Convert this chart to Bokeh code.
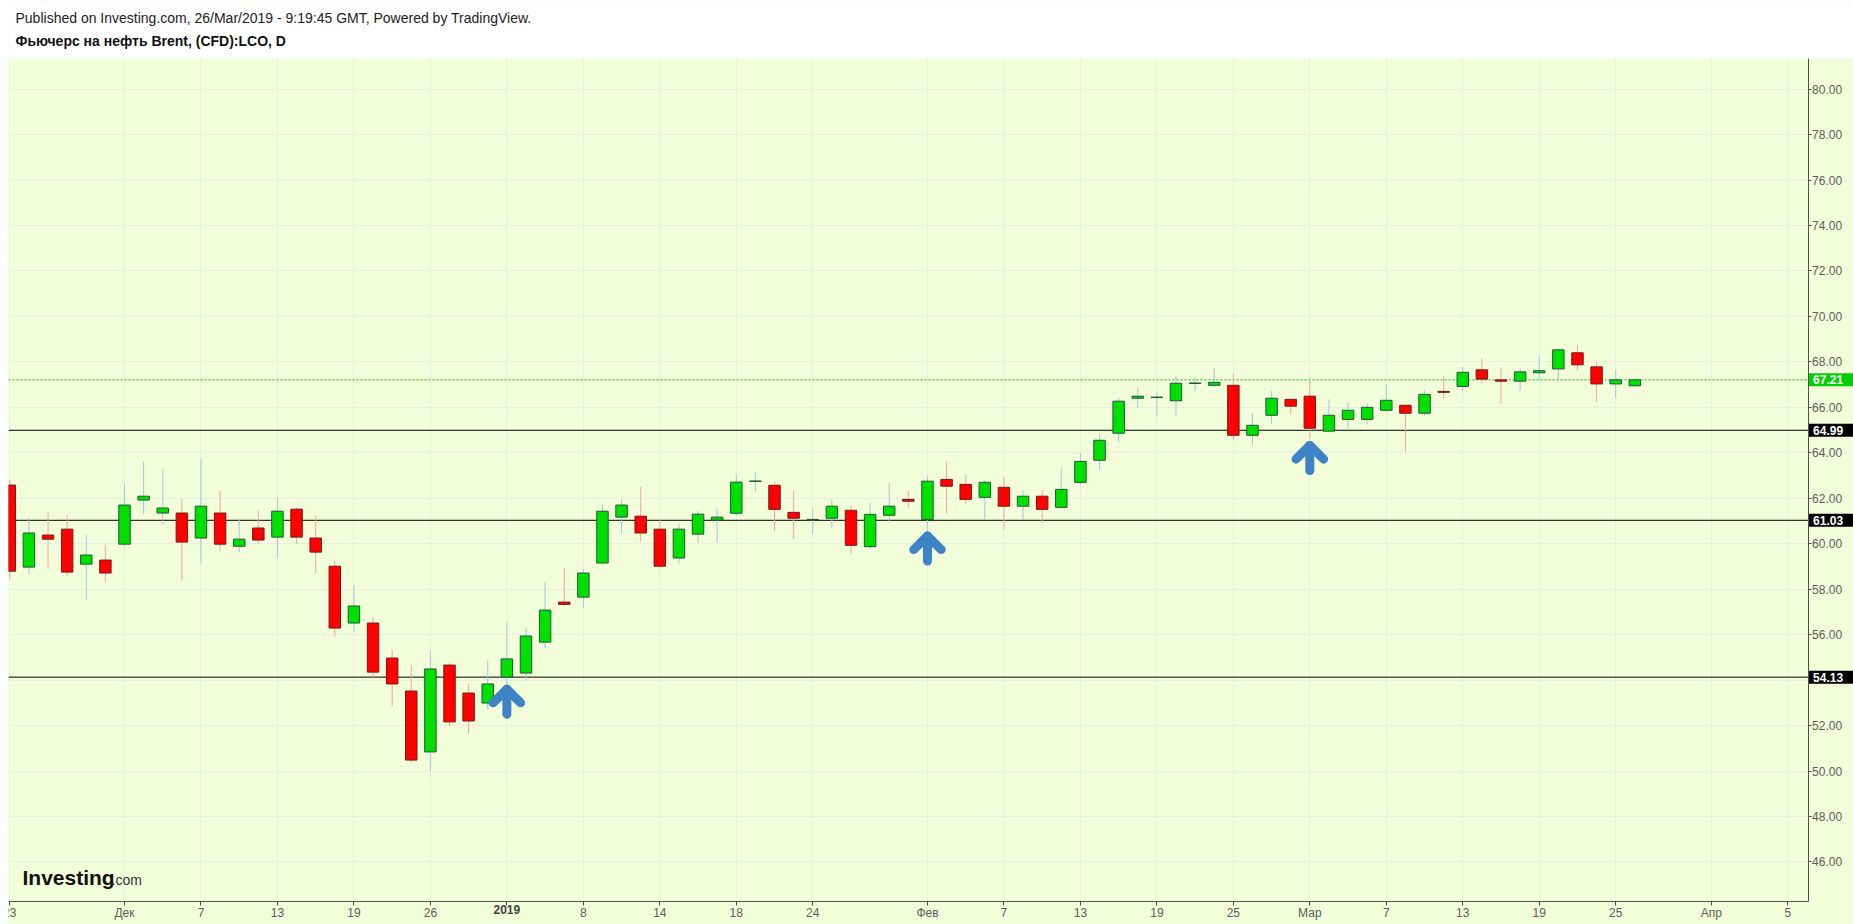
from bokeh.plotting import figure
from bokeh.models import (ColumnDataSource, Label, BoxAnnotation, FixedTicker,
                          Range1d, NumeralTickFormatter)
from bokeh.embed import file_html
from bokeh.resources import INLINE

# ---------------- data ----------------
dates = [
    "2018-11-23", "2018-11-26", "2018-11-27", "2018-11-28", "2018-11-29", "2018-11-30",
    "2018-12-03", "2018-12-04", "2018-12-05", "2018-12-06", "2018-12-07",
    "2018-12-10", "2018-12-11", "2018-12-12", "2018-12-13", "2018-12-14",
    "2018-12-17", "2018-12-18", "2018-12-19", "2018-12-20", "2018-12-21",
    "2018-12-24", "2018-12-26", "2018-12-27", "2018-12-28", "2018-12-31",
    "2019-01-02", "2019-01-03", "2019-01-04", "2019-01-07", "2019-01-08",
    "2019-01-09", "2019-01-10", "2019-01-11", "2019-01-14", "2019-01-15",
    "2019-01-16", "2019-01-17", "2019-01-18", "2019-01-21", "2019-01-22",
    "2019-01-23", "2019-01-24", "2019-01-25", "2019-01-28", "2019-01-29",
    "2019-01-30", "2019-01-31", "2019-02-01", "2019-02-04", "2019-02-05",
    "2019-02-06", "2019-02-07", "2019-02-08", "2019-02-11", "2019-02-12",
    "2019-02-13", "2019-02-14", "2019-02-15", "2019-02-18", "2019-02-19",
    "2019-02-20", "2019-02-21", "2019-02-22", "2019-02-25", "2019-02-26",
    "2019-02-27", "2019-02-28", "2019-03-01", "2019-03-04", "2019-03-05",
    "2019-03-06", "2019-03-07", "2019-03-08", "2019-03-11", "2019-03-12",
    "2019-03-13", "2019-03-14", "2019-03-15", "2019-03-18", "2019-03-19",
    "2019-03-20", "2019-03-21", "2019-03-22", "2019-03-25", "2019-03-26",
]
opens = [
    62.58, 58.97, 60.38, 60.64, 59.10, 59.28, 59.98, 61.92, 61.35, 61.35,
    60.25, 61.35, 59.89, 60.69, 60.29, 61.52, 60.25, 59.01, 56.51, 56.51,
    54.97, 53.52, 50.84, 54.66, 53.43, 52.99, 54.13, 54.31, 55.67, 57.43,
    57.65, 59.15, 61.17, 61.21, 60.64, 59.37, 60.42, 61.04, 61.34, 62.74,
    62.57, 61.38, 61.05, 61.12, 61.47, 59.87, 61.25, 61.95, 61.06, 62.83,
    62.61, 62.04, 62.48, 61.65, 62.09, 61.60, 62.70, 63.67, 64.86, 66.40,
    66.43, 66.29, 67.05, 66.97, 66.97, 64.77, 65.65, 66.35, 66.49, 64.95,
    65.47, 65.47, 65.87, 66.09, 65.74, 66.70, 66.92, 67.65, 67.21, 67.15,
    67.52, 67.69, 68.40, 67.78, 67.03, 66.95,
]
highs = [
    62.81, 61.14, 61.40, 61.27, 60.39, 59.95, 62.63, 63.60, 63.29, 61.98,
    63.73, 62.33, 61.10, 61.45, 62.02, 61.58, 61.23, 59.25, 58.15, 56.79,
    55.34, 54.67, 55.29, 54.75, 53.84, 54.85, 56.57, 56.30, 58.33, 58.94,
    58.90, 61.73, 61.93, 62.50, 61.04, 60.88, 61.45, 61.54, 63.03, 63.16,
    62.72, 62.32, 61.53, 61.92, 61.70, 61.79, 62.67, 62.32, 62.98, 63.64,
    63.02, 62.79, 62.94, 62.36, 62.36, 63.33, 63.99, 64.83, 66.43, 66.85,
    66.68, 67.38, 67.34, 67.73, 67.47, 65.75, 66.72, 66.40, 67.16, 66.35,
    66.22, 66.18, 67.03, 66.12, 66.75, 67.38, 67.77, 68.15, 67.75, 67.71,
    68.24, 68.57, 68.72, 68.00, 67.66, 67.30,
]
lows = [
    58.41, 58.65, 58.96, 58.60, 57.55, 58.30, 59.88, 61.29, 60.85, 58.38,
    59.13, 59.66, 59.62, 60.01, 59.35, 59.97, 58.69, 55.92, 56.11, 54.10,
    52.83, 50.38, 49.99, 51.97, 51.66, 52.70, 53.00, 53.99, 55.39, 57.28,
    57.15, 59.09, 60.45, 60.10, 58.91, 59.13, 60.04, 60.06, 61.25, 62.30,
    60.58, 60.22, 60.44, 60.71, 59.52, 59.78, 61.00, 61.59, 60.56, 61.32,
    61.76, 61.04, 60.62, 61.04, 60.94, 61.55, 62.60, 63.26, 64.45, 65.94,
    65.59, 65.63, 66.72, 66.92, 64.58, 64.36, 65.28, 65.68, 64.62, 64.90,
    65.06, 65.24, 65.78, 64.05, 65.63, 66.40, 66.72, 67.05, 66.17, 66.74,
    67.21, 67.21, 67.64, 66.23, 66.40, 66.89,
]
closes = [
    58.79, 60.47, 60.20, 58.75, 59.50, 58.71, 61.70, 62.09, 61.57, 60.07,
    61.65, 59.98, 60.20, 60.16, 61.43, 60.29, 59.63, 56.29, 57.26, 54.35,
    53.83, 50.48, 54.49, 52.16, 52.20, 53.83, 54.93, 55.94, 57.08, 57.33,
    58.71, 61.43, 61.70, 60.47, 59.01, 60.64, 61.30, 61.17, 62.71, 62.76,
    61.51, 61.12, 61.07, 61.65, 59.93, 61.29, 61.65, 61.87, 62.75, 62.53,
    61.95, 62.70, 61.65, 62.09, 61.51, 62.39, 63.62, 64.55, 66.27, 66.49,
    66.45, 67.06, 67.07, 67.10, 64.77, 65.21, 66.40, 66.05, 65.08, 65.65,
    65.87, 66.00, 66.31, 65.74, 66.57, 66.66, 67.54, 67.24, 67.15, 67.56,
    67.61, 68.53, 67.87, 67.03, 67.21, 67.21,
]

tick_index = [0, 6, 10, 14, 18, 22, 26, 30, 34, 38, 42, 48, 52, 56, 60, 64,
              68, 72, 76, 80, 84, 89, 93]
tick_labels = ["23", "Дек", "7", "13", "19", "26", "2019", "8", "14", "18", "24",
               "Фев", "7", "13", "19", "25", "Мар", "7", "13", "19", "25", "Апр", "5"]
y_ticks = [46, 48, 50, 52, 54, 56, 58, 60, 62, 64, 66, 68, 70, 72, 74, 76, 78, 80]
levels = [64.99, 61.03, 54.13]
last_price = 67.21
arrow_index = [26, 48, 68]
arrow_tip = [53.60, 60.34, 64.32]

header_1 = "Published on Investing.com, 26/Mar/2019 - 9:19:45 GMT, Powered by TradingView."
header_2 = "Фьючерс на нефть Brent, (CFD):LCO, D"

# ---------------- layout / styling ----------------
FONT = "Liberation Sans"
BG = "#f2fdda"
GRID = "#e7eee6"
AXIS = "#4f4f4f"
TXT = "#5e5e5e"

W, H = 1853, 924
LEFT = 8
X0, X1 = -0.068, 94.06          # left edge of chart, price-scale line
Y0, Y1 = 44.272, 81.334         # time-scale line, top of chart
XMAX = X0 + (W - LEFT) / 19.118
YMIN = 61.03 - (H - 519.8) / 22.73
YMAX = 61.03 + 519.8 / 22.73

idx = list(range(len(dates)))
up = [c >= o for o, c in zip(opens, closes)]
src = ColumnDataSource(dict(
    x=idx, date=dates, open=opens, high=highs, low=lows, close=closes,
    top=[max(o, c) for o, c in zip(opens, closes)],
    bottom=[min(o, c) for o, c in zip(opens, closes)],
    fill=["#00e000" if u else "#ff0000" for u in up],
    edge=["#1d5a36" if u else "#7a1818" for u in up],
    wick=["#a3c6dc" if u else "#f2a2a8" for u in up],
))

p = figure(width=W, height=H,
           x_range=Range1d(X0, XMAX), y_range=Range1d(YMIN, YMAX),
           y_axis_location="right", output_backend="svg", toolbar_location=None,
           min_border_left=LEFT, min_border_top=0, min_border_bottom=0, min_border_right=0)
p.background_fill_color = BG
p.border_fill_color = "white"
p.outline_line_color = None

# axes drawn at fixed data locations
p.yaxis.fixed_location = X1
p.yaxis.bounds = (Y0, Y1)
p.yaxis.ticker = FixedTicker(ticks=y_ticks)
p.yaxis.formatter = NumeralTickFormatter(format="0.00")
p.yaxis.major_label_overrides = {54: ""}   # hidden under the 54.13 tag
p.xaxis.fixed_location = Y0
p.xaxis.bounds = (X0, X1)
p.xaxis.ticker = FixedTicker(ticks=tick_index)
overrides = {i: t for i, t in zip(tick_index, tick_labels)}
overrides[26] = ""
p.xaxis.major_label_overrides = overrides
for ax in (p.xaxis[0], p.yaxis[0]):
    ax.axis_line_color = AXIS
    ax.major_tick_line_color = AXIS
    ax.minor_tick_line_color = None
    ax.major_tick_in = 0
    ax.major_label_text_font = FONT
    ax.major_label_text_font_size = "12px"
    ax.major_label_text_color = TXT
p.yaxis.major_tick_out = 3
p.yaxis.major_label_standoff = 1
p.xaxis.major_tick_out = 4
p.xaxis.major_label_standoff = 1

p.xgrid.grid_line_color = GRID
p.ygrid.grid_line_color = GRID

# masks: white header, plain price-scale and time-scale strips
p.add_layout(BoxAnnotation(bottom=Y1, fill_color="white", fill_alpha=1.0,
                           line_color=None, level="underlay"))
p.add_layout(BoxAnnotation(left=X1, top=Y1, fill_color=BG, fill_alpha=1.0,
                           line_color=None, level="underlay"))
p.add_layout(BoxAnnotation(right=X1, top=Y0, fill_color=BG, fill_alpha=1.0,
                           line_color=None, level="underlay"))

# bold year label under the axis
p.add_layout(Label(x=26, y=Y0, y_offset=-4, text="2019", text_font=FONT,
                   text_font_size="12px", text_font_style="bold", text_color="#444444",
                   text_align="center", text_baseline="top"))

# horizontal levels (drawn up to the price scale)
n_lv = len(levels)
p.segment(x0=[X0] * n_lv, y0=levels, x1=[X1] * n_lv, y1=levels,
          line_color="black", line_width=1)
p.segment(x0=[X0], y0=[last_price], x1=[X1], y1=[last_price],
          line_color="#00c000", line_width=1, line_dash="2 2")

# candles
p.segment(x0="x", y0="low", x1="x", y1="high", line_color="wick", line_width=1, source=src)
p.vbar(x="x", width=0.6, top="top", bottom="bottom", fill_color="fill",
       line_color="edge", line_width=1, source=src)

# price tags on the scale
for lv, bg in [(lv, "black") for lv in levels] + [(last_price, "#00d000")]:
    p.add_layout(Label(x=X1, y=lv, x_offset=1, text=f"{lv:.2f}", text_font=FONT,
                       text_font_size="12px", text_font_style="bold", text_color="white",
                       background_fill_color=bg, text_baseline="middle",
                       padding=dict(left=4, right=14, top=2, bottom=2)))

# blue arrows
axs, ays = [], []
for xi, tp in zip(arrow_index, arrow_tip):
    axs += [[xi - 0.72, xi, xi + 0.72], [xi, xi]]
    ays += [[tp - 0.6, tp, tp - 0.6], [tp, tp - 1.1]]
p.multi_line(axs, ays, line_color="#3d84c6", line_width=9, line_cap="round", line_join="round")

# header texts (screen units)
p.add_layout(Label(x=15 - LEFT, y=H - 17, x_units="screen", y_units="screen", text=header_1,
                   text_font=FONT, text_font_size="14px", text_color="#222222",
                   text_baseline="alphabetic"))
p.add_layout(Label(x=15 - LEFT, y=H - 40.5, x_units="screen", y_units="screen", text=header_2,
                   text_font=FONT, text_font_size="14px", text_font_style="bold",
                   text_color="#111111", text_baseline="alphabetic"))

# logo
p.add_layout(Label(x=22 - LEFT, y=H - 876.7, x_units="screen", y_units="screen", text="Investing",
                   text_font=FONT, text_font_size="21px", text_font_style="bold",
                   text_color="#111111", text_baseline="alphabetic"))
p.add_layout(Label(x=111 - LEFT, y=H - 879.5, x_units="screen", y_units="screen", text=".com",
                   text_font=FONT, text_font_size="14px", text_color="#333333",
                   text_baseline="alphabetic"))

open("out.html", "w").write(file_html(p, INLINE))
